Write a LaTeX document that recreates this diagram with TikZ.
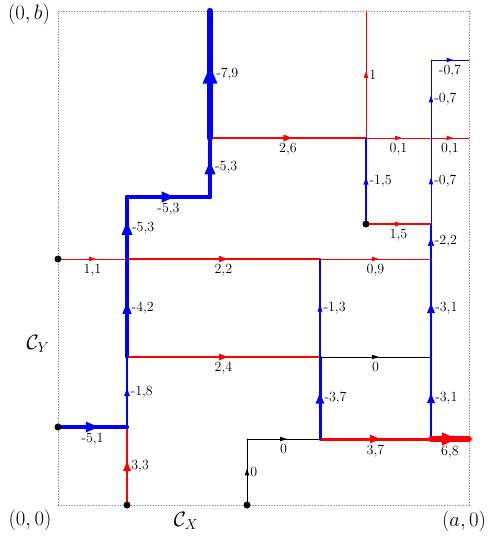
\documentclass[tikz,border=0pt]{standalone}
\usetikzlibrary{arrows.meta,decorations.markings}
\begin{document}
\begin{tikzpicture}[x=1pt,y=-1pt,line cap=round,
  flow/.style={line width=#1, postaction={decorate},
    decoration={markings, mark=at position 0.5 with {\arrow[xshift={2.5pt+\pgflinewidth}]{Triangle[length=5pt 2, width=3pt 1.6]}}}},
  num/.style={text=black, font=\fontsize{14}{16}\selectfont, inner sep=1pt},
  lb/.style={num, below, yshift=-3.5pt},
  rl/.style={num, right, xshift=2pt},
  dot/.style={circle, fill=black, inner sep=0pt, minimum size=7pt},
  big/.style={font=\huge, inner sep=0pt},
  frame/.style={dotted, gray, line width=0.7pt}]
\useasboundingbox (0,0) rectangle (490,539);
% frame
\coordinate (O) at (58,505);
\coordinate (TL) at (58,11);
\coordinate (TR) at (469,11);
\coordinate (BR) at (469,505);
\draw[frame] (O) -- (TL) -- (TR) -- (BR) -- cycle;
% points
\coordinate (A0) at (127,505);
\coordinate (A1) at (127,427);
\coordinate (A2) at (127,357);
\coordinate (A3) at (127,259);
\coordinate (A4) at (127,197);
\coordinate (B1) at (210,197);
\coordinate (B2) at (210,138);
\coordinate (B3) at (210,11);
\coordinate (L1) at (58,427);
\coordinate (L2) at (58,259);
\coordinate (C1) at (320,259);
\coordinate (C2) at (320,357);
\coordinate (C3) at (320,439);
\coordinate (E1) at (431,439);
\coordinate (E2) at (431,357);
\coordinate (E3) at (431,259);
\coordinate (E4) at (431,224);
\coordinate (E5) at (431,138);
\coordinate (E6) at (431,60);
\coordinate (R1) at (469,439);
\coordinate (R2) at (469,138);
\coordinate (R3) at (469,60);
\coordinate (F1) at (366,224);
\coordinate (F2) at (366,138);
\coordinate (F3) at (366,11);
\coordinate (G0) at (247,505);
\coordinate (G1) at (247,439);
% red (positive)
\draw[red, flow=2.7pt] (A0) -- node[rl]{3,3} (A1);
\draw[red, flow=0.9pt] (L2) -- node[lb]{1,1} (A3);
\draw[red, flow=1.8pt] (A3) -- node[lb]{2,2} (C1);
\draw[red, flow=0.8pt] (C1) -- node[lb]{0,9} (E3);
\draw[red, flow=2.0pt] (A2) -- node[lb]{2,4} (C2);
\draw[red, flow=3.0pt] (C3) -- node[lb]{3,7} (E1);
\draw[red, flow=1.2pt] (F1) -- node[lb]{1,5} (E4);
\draw[red, flow=2.1pt] (B2) -- node[lb]{2,6} (F2);
\draw[red, flow=0.8pt] (F2) -- node[lb]{0,1} (E5);
\draw[red, flow=0.8pt] (E5) -- node[lb]{0,1} (R2);
\draw[red, flow=0.8pt] (F2) -- node[rl]{1} (F3);
% blue (negative)
\draw[blue, flow=4.2pt] (L1) -- node[lb]{-5,1} (A1);
\draw[blue, flow=1.5pt] (A1) -- node[rl]{-1,8} (A2);
\draw[blue, flow=3.4pt] (A2) -- node[rl]{-4,2} (A3);
\draw[blue, flow=4.3pt] (A3) -- node[rl]{-5,3} (A4);
\draw[blue, flow=4.3pt] (A4) -- node[lb]{-5,3} (B1);
\draw[blue, flow=4.3pt] (B1) -- node[rl]{-5,3} (B2);
\draw[blue, flow=6.5pt] (B2) -- node[rl]{-7,9} (B3);
\draw[blue, flow=3.0pt] (C3) -- node[rl]{-3,7} (C2);
\draw[blue, flow=1.1pt] (C2) -- node[rl]{-1,3} (C1);
\draw[blue, flow=2.6pt] (E1) -- node[rl]{-3,1} (E2);
\draw[blue, flow=2.6pt] (E2) -- node[rl]{-3,1} (E3);
\draw[blue, flow=1.8pt] (E3) -- node[rl]{-2,2} (E4);
\draw[blue, flow=0.8pt] (E4) -- node[rl]{-0,7} (E5);
\draw[blue, flow=0.8pt] (E5) -- node[rl]{-0,7} (E6);
\draw[blue, flow=0.8pt] (E6) -- node[lb]{-0,7} (R3);
\draw[blue, flow=1.2pt] (F1) -- node[rl]{-1,5} (F2);
% red thick last segment on top
\draw[red, flow=5.6pt] (E1) -- node[lb]{6,8} (R1);
% black (zero)
\draw[black, flow=0.8pt] (G0) -- node[rl]{0} (G1);
\draw[black, flow=0.8pt] (G1) -- node[lb]{0} (C3);
\draw[black, flow=0.8pt] (C2) -- node[lb]{0} (E2);
% dots
\node[dot] (dL1) at (L1) {};
\node[dot] (dL2) at (L2) {};
\node[dot] (dA0) at (A0) {};
\node[dot] (dG0) at (G0) {};
\node[dot] (dF1) at (F1) {};
% corner labels
\node[big] (l0b) at (29,14) {$(0,b)$};
\node[big] (l00) at (30,520) {$(0,0)$};
\node[big] (la0) at (464,521) {$(a,0)$};
\node[big] (lcy) at (38,344) {$\mathcal{C}_Y$};
\node[big] (lcx) at (186,521) {$\mathcal{C}_X$};
\end{tikzpicture}
\end{document}
